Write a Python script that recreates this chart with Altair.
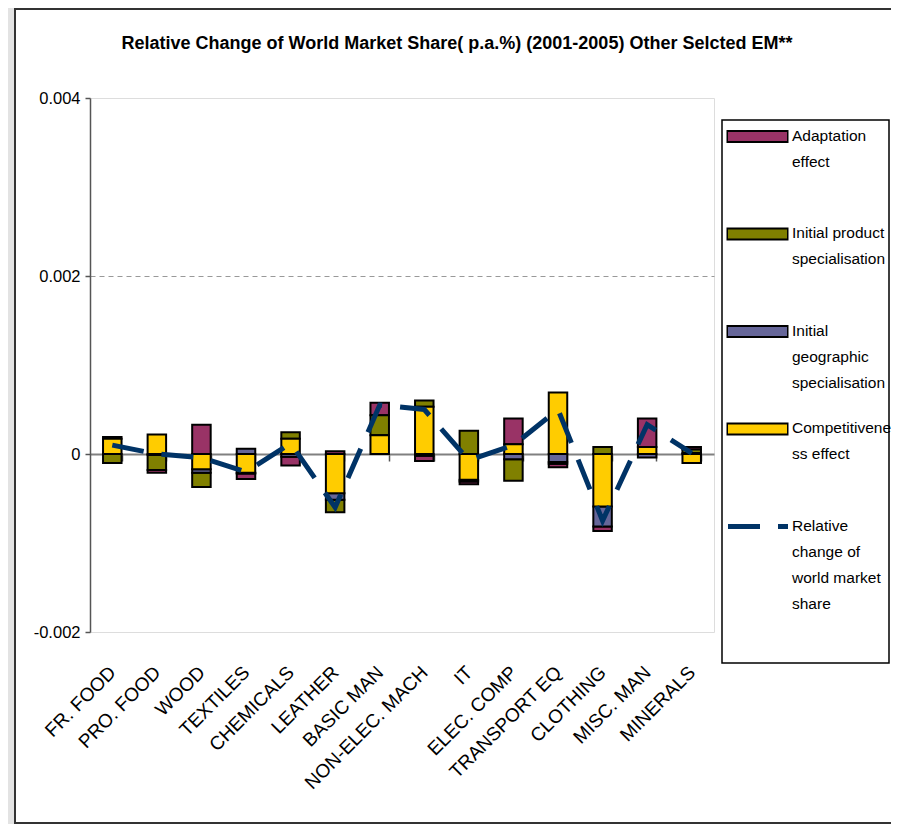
import altair as alt
import pandas as pd

FONT = "Liberation Sans, Arial, sans-serif"

categories = ["FR. FOOD", "PRO. FOOD", "WOOD", "TEXTILES", "CHEMICALS", "LEATHER",
              "BASIC MAN", "NON-ELEC. MACH", "IT", "ELEC. COMP", "TRANSPORT EQ",
              "CLOTHING", "MISC. MAN", "MINERALS"]

adaptation = [0.00002, -0.00003, 0.00033, -0.00006, -0.00010, 0.00003, 0.00014,
              -0.00006, -0.00003, 0.00029, -0.00004, -0.00005, 0.00032, 0.00003]
product = [-0.00010, -0.00017, -0.00016, -0.00001, 0.000075, -0.00014, 0.000225,
           0.00007, 0.00026, -0.00024, -0.00002, 0.00008, 0.0, 0.00004]
geographic = [0.0, -0.00001, -0.00004, 0.00006, -0.00003, -0.000075, 0.0,
              -0.00002, -0.00002, -0.00006, -0.00009, -0.000225, -0.00004, 0.00001]
competitiveness = [0.00017, 0.00022, -0.00017, -0.00021, 0.00017, -0.00044, 0.00021,
                   0.00053, -0.00029, 0.00011, 0.00069, -0.00059, 0.00008, -0.00010]
relative_change = [0.00010, 0.0, -0.00004, -0.00020, 0.00012, -0.00060, 0.00055,
                   0.00050, -0.00007, 0.00010, 0.00050, -0.00075, 0.00033, 0.00001]

series_names = ["Adaptation effect", "Initial product specialisation",
                "Initial geographic specialisation", "Competitiveness effect"]
series_colors = ["#993366", "#808000", "#666699", "#FFCC00"]
stack_order = [3, 2, 1, 0]
legend_labels = ["Adaptation\neffect", "Initial product\nspecialisation",
                 "Initial\ngeographic\nspecialisation", "Competitivene\nss effect",
                 "Relative\nchange of\nworld market\nshare"]
line_name = "Relative change of world market share"
title_text = "Relative Change of World Market Share( p.a.%) (2001-2005) Other Selcted EM**"

rows = []
for s, vals, o in zip(series_names, [adaptation, product, geographic, competitiveness], stack_order):
    for c, v in zip(categories, vals):
        rows.append({"cat": c, "series": s, "value": v, "ord": o})
bars_df = pd.DataFrame(rows)
line_df = pd.DataFrame({"cat": categories, "total": relative_change})

color_scale = alt.Scale(domain=series_names, range=series_colors)
x_enc = alt.X(
    "cat:N", sort=categories,
    scale=alt.Scale(paddingInner=0.585, paddingOuter=0.2925),
    axis=alt.Axis(
        title=None, orient="bottom", offset=-178,
        domainColor="#808080", domainWidth=2,
        ticks=True, tickBand="extent", tickSize=7, tickColor="#555555", tickWidth=1.5,
        labelAngle=-45, labelAlign="right", labelBaseline="middle",
        labelPadding=208, labelFont=FONT, labelFontSize=19, labelColor="#000000",
        labelLimit=300, grid=False,
    ),
)
y_scale = alt.Scale(domain=[-0.002, 0.004], nice=False, zero=False)

bars = alt.Chart(bars_df).mark_bar(stroke="#000000", strokeWidth=2).encode(
    x=x_enc,
    y=alt.Y("value:Q", stack="zero", scale=y_scale,
            axis=alt.Axis(
                title=None, values=[-0.002, 0, 0.002, 0.004],
                labelExpr="abs(datum.value) < 1e-12 ? '0' : (datum.value < 0 ? '-' + format(-datum.value, '.3f') : format(datum.value, '.3f'))",
                labelFont=FONT, labelFontSize=16.5, labelColor="#000000", labelPadding=5,
                tickSize=5, tickColor="#555555", tickWidth=1.5,
                domainColor="#555555", domainWidth=1.5,
                grid=True, gridColor="#999999", gridDash=[5, 4], gridWidth=1,
                gridOpacity=alt.condition("abs(datum.value - 0.002) < 1e-9",
                                          alt.value(1), alt.value(0)),
            )),
    color=alt.Color("series:N", scale=color_scale, legend=None),
    order=alt.Order("ord:Q", sort="ascending"),
)

line = alt.Chart(line_df).mark_line(
    color="#003366", strokeWidth=5, strokeDash=[32, 18], strokeCap="butt"
).encode(
    x=alt.X("cat:N", sort=categories),
    y=alt.Y("total:Q", scale=y_scale),
)

main = alt.layer(bars, line)

# legend panel
legend_df = pd.DataFrame({
    "series": series_names + [line_name],
    "label": legend_labels,
    "lrow": [0, 1, 2, 3, 4],
})
box_df = pd.DataFrame({"y0": [-0.17], "y1": [5.40]})
ly_scale = alt.Scale(domain=[-0.17, 5.40], range=[22, 565], nice=False, zero=False)

box = alt.Chart(box_df).mark_rect(fill="#ffffff", stroke="#000000", strokeWidth=1.5).encode(
    x=alt.value(632), x2=alt.value(799),
    y=alt.Y("y0:Q", scale=ly_scale, axis=None), y2="y1:Q",
)
sw_border = alt.Chart(legend_df).transform_filter("datum.lrow < 4").mark_rule(
    color="#000000", strokeWidth=13).encode(
    x=alt.value(636.5), x2=alt.value(698.5),
    y=alt.Y("lrow:Q", scale=ly_scale, axis=None),
)
sw_fill = alt.Chart(legend_df).transform_filter("datum.lrow < 4").mark_rule(
    strokeWidth=9).encode(
    x=alt.value(638), x2=alt.value(697),
    y=alt.Y("lrow:Q", scale=ly_scale, axis=None),
    color=alt.Color("series:N", scale=color_scale, legend=None),
)
sw_line = alt.Chart(legend_df).transform_filter("datum.lrow == 4").mark_rule(
    color="#003366", strokeWidth=5, strokeDash=[32, 18], strokeCap="butt").encode(
    x=alt.value(638), x2=alt.value(698),
    y=alt.Y("lrow:Q", scale=ly_scale, axis=None),
)
texts = alt.Chart(legend_df).mark_text(
    align="left", baseline="top", dy=-8, lineBreak="\n", lineHeight=26,
    font=FONT, fontSize=15.5, color="#000000",
).encode(
    x=alt.value(702),
    y=alt.Y("lrow:Q", scale=ly_scale, axis=None),
    text="label:N",
)
legend = alt.layer(box, sw_border, sw_fill, sw_line, texts)

# chart-area frame (decoration): grey strip on the left and dark border
frame_df = pd.DataFrame({"k": [0]})
frame_grey = alt.Chart(frame_df).mark_rect(fill="#e3e3e3", strokeWidth=0).encode(
    x=alt.value(-82), x2=alt.value(-75), y=alt.value(-90), y2=alt.value(726),
)
frame_line = alt.Chart(frame_df).mark_rect(
    fill="transparent", stroke="#333333", strokeWidth=2).encode(
    x=alt.value(-75), x2=alt.value(812), y=alt.value(-89), y2=alt.value(725),
)

chart = alt.layer(frame_grey, frame_line, main, legend).resolve_scale(y="independent").properties(
    width=624, height=534,
    autosize=alt.AutoSizeParams(type="none"),
    padding={"left": 82, "top": 90, "right": 177, "bottom": 192},
    title=alt.TitleParams(title_text, font=FONT, fontSize=18, fontWeight="bold",
                          anchor="middle", dx=55, dy=45, offset=0, color="#000000"),
).configure_view(stroke="#808080", strokeWidth=1.5).configure(background="#ffffff")

chart.save("out.html", embed_options={"renderer": "svg", "actions": False})
